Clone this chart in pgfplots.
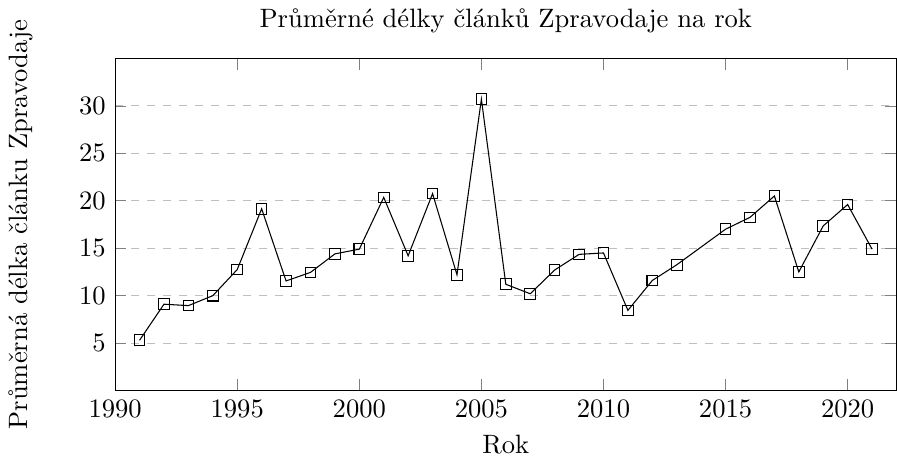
\documentclass[border=0pt]{standalone}
\usepackage{pgfplots}
\pgfplotsset{compat=1.18}
\begin{document}
\begin{tikzpicture}
\begin{axis}[
  scale only axis,
  width=294pt, height=125pt,
  xmin=1990, xmax=2022,
  ymin=0, ymax=35,
  xtick={1990,1995,...,2020},
  ytick={5,10,...,30},
  x tick label style={/pgf/number format/1000 sep={}},
  ymajorgrids,
  grid style={dashed, gray!50},
  title={Průměrné délky článků Zpravodaje na rok},
  xlabel={Rok},
  ylabel={Průměrná délka článku Zpravodaje},
  ylabel shift=10.5pt,
]
\addplot[black, mark=square] coordinates {
(1991,5.3) (1992,9.1) (1993,8.95) (1994,10.0) (1995,12.75) (1996,19.15)
(1997,11.55) (1998,12.45) (1999,14.4) (2000,14.9) (2001,20.35) (2002,14.2)
(2003,20.75) (2004,12.2) (2005,30.7) (2006,11.2) (2007,10.2) (2008,12.7)
(2009,14.35) (2010,14.5) (2011,8.45) (2012,11.6) (2013,13.25)
(2015,17.0) (2016,18.25) (2017,20.5) (2018,12.5) (2019,17.35) (2020,19.6) (2021,14.9)
};
\end{axis}
\end{tikzpicture}
\end{document}
